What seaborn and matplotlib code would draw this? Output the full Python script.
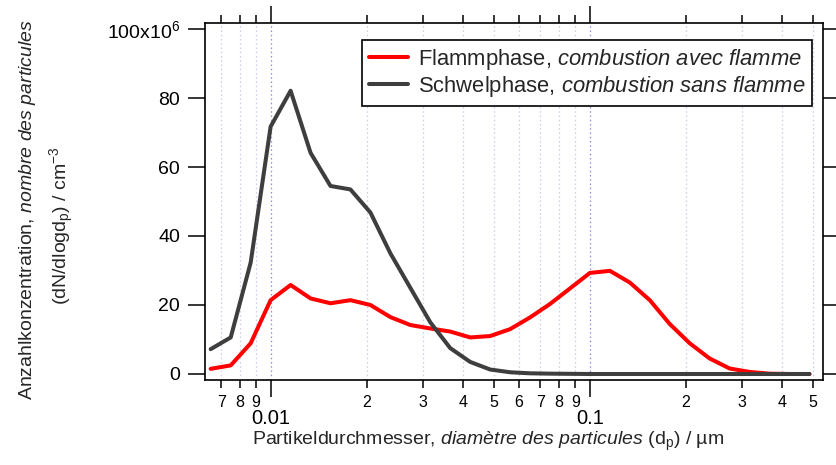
import numpy as np
import pandas as pd
import matplotlib
matplotlib.use("Agg")
import matplotlib.pyplot as plt
import seaborn as sns
from matplotlib.ticker import FixedLocator, FixedFormatter
from matplotlib.lines import Line2D

# ---- data (particle number concentration, x10^6 per cm^3) ----
diameter_um = [0.00649, 0.00750, 0.00866, 0.0100, 0.01155, 0.01334, 0.0154, 0.01778,
               0.02054, 0.02371, 0.02738, 0.03162, 0.03652, 0.04217, 0.04870, 0.05623,
               0.06494, 0.07499, 0.08660, 0.1000, 0.1155, 0.1334, 0.1540, 0.1778,
               0.2054, 0.2371, 0.2738, 0.3162, 0.3652, 0.4217, 0.4870]
flamm = [1.5, 2.5, 8.9, 21.4, 25.8, 21.9, 20.5, 21.4, 20.0, 16.5, 14.2, 13.2, 12.3,
         10.6, 11.0, 13.0, 16.4, 20.3, 24.8, 29.3, 29.9, 26.5, 21.4, 14.5, 8.9, 4.5,
         1.6, 0.6, 0.1, 0.0, 0.0]
schwel = [7.2, 10.6, 32.3, 71.7, 82.1, 64.1, 54.5, 53.5, 46.8, 35.0, 25.0, 15.0, 7.5,
          3.5, 1.3, 0.5, 0.2, 0.1, 0.05, 0.0, 0.0, 0.0, 0.0, 0.0, 0.0, 0.0, 0.0, 0.0,
          0.0, 0.0, 0.0]
labels = ["Flammphase, $\\it{combustion\\ avec\\ flamme}$",
          "Schwelphase, $\\it{combustion\\ sans\\ flamme}$"]
colors = ["#ff0000", "#3e3e3e"]
y_ticks = [0, 20, 40, 60, 80, 100]
y_ticklabels = ["0", "20", "40", "60", "80", "100x10$^{6}$"]
x_major = [0.01, 0.1]
x_major_labels = ["0.01", "0.1"]
x_minor = [0.007, 0.008, 0.009, 0.02, 0.03, 0.04, 0.05, 0.06, 0.07, 0.08, 0.09,
           0.2, 0.3, 0.4, 0.5]
x_minor_labels = ["7", "8", "9", "2", "3", "4", "5", "6", "7", "8", "9",
                  "2", "3", "4", "5"]

sns.set_style("ticks")
plt.rcParams["font.family"] = ["Liberation Sans", "DejaVu Sans"]
plt.rcParams["mathtext.fontset"] = "custom"
plt.rcParams["mathtext.rm"] = "Liberation Sans"
plt.rcParams["mathtext.it"] = "Liberation Sans:italic"
plt.rcParams["mathtext.bf"] = "Liberation Sans:bold"

df = pd.DataFrame({
    "dp": diameter_um * 2,
    "N": flamm + schwel,
    "phase": [labels[0]] * len(flamm) + [labels[1]] * len(schwel),
})

fig = plt.figure(figsize=(8.36, 4.65), dpi=100)
ax = fig.add_axes([205 / 836, 1 - 380 / 465, (823 - 205) / 836, (380 - 23) / 465])

sns.lineplot(data=df, x="dp", y="N", hue="phase", hue_order=labels,
             palette=colors, linewidth=2.9, ax=ax, sort=False, legend=False)

ax.set_xscale("log")
ax.set_xlim(0.00623, 0.537)
ax.set_ylim(-1.74, 101.74)

ax.xaxis.set_major_locator(FixedLocator(x_major))
ax.xaxis.set_major_formatter(FixedFormatter(x_major_labels))
ax.xaxis.set_minor_locator(FixedLocator(x_minor))
ax.xaxis.set_minor_formatter(FixedFormatter(x_minor_labels))
ax.grid(False)
ax.grid(True, which="minor", axis="x", color="#c9cde6", linestyle=(0, (1.2, 2.2)), linewidth=0.9)
ax.grid(True, which="major", axis="x", color="#8c8ce6", linestyle=(0, (1.2, 2.2)), linewidth=0.9)
ax.set_axisbelow(True)

ax.set_yticks(y_ticks)
ax.set_yticklabels(y_ticklabels)

for s in ax.spines.values():
    s.set_visible(True)
    s.set_linewidth(1.2)
    s.set_color("black")

ax.tick_params(axis="x", which="major", direction="out", length=12, width=1.1,
               top=True, bottom=True, labelsize=14.5, pad=9, colors="black")
ax.tick_params(axis="x", which="minor", direction="out", length=6, width=1.1,
               top=True, bottom=True, labelsize=11.5, pad=4.5, colors="black")
ax.tick_params(axis="y", which="major", direction="out", length=12, width=1.1,
               left=True, right=True, labelsize=14, pad=6, colors="black")
ax.set_xlabel("")
ax.set_ylabel("")

handles = [Line2D([0], [0], color=c, lw=2.9) for c in colors]
leg = ax.legend(handles, labels, loc="upper right", bbox_to_anchor=(0.9825, 0.9525),
                fontsize=15.8, frameon=True, fancybox=False, edgecolor="black",
                framealpha=1, handlelength=1.8, handletextpad=0.45,
                borderpad=0.3, labelspacing=0.12, borderaxespad=0)
leg.get_frame().set_linewidth(1.2)

fig.text(488 / 836, 1 - 441 / 465,
         "Partikeldurchmesser, $\\it{diamètre\\ des\\ particules}$ (d$_\\mathrm{p}$) / µm",
         ha="center", va="center", fontsize=14)
fig.text(28 / 836, 1 - 210 / 465,
         "Anzahlkonzentration, $\\it{nombre\\ des\\ particules}$",
         ha="center", va="center", rotation=90, fontsize=14)
fig.text(62 / 836, 1 - 226 / 465,
         "(dN/dlogd$_\\mathrm{p}$) / cm$^{-3}$",
         ha="center", va="center", rotation=90, fontsize=14)

fig.savefig("out.png", dpi=100)
